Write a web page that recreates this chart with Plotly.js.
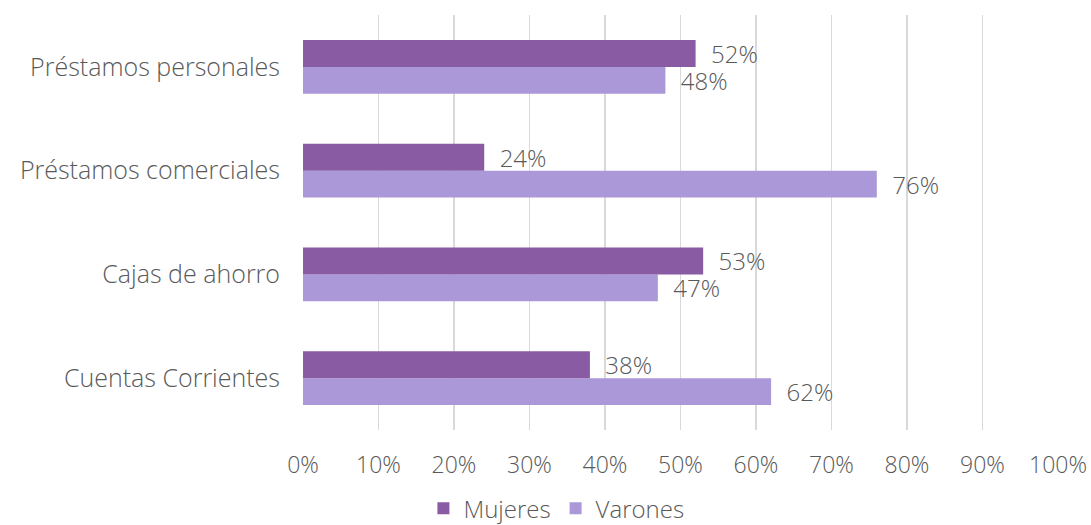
<!DOCTYPE html>
<html><head><meta charset="utf-8">
<script src="https://cdn.plot.ly/plotly-3.0.1.min.js"></script>
<style>html,body{margin:0;padding:0;background:#fff;}#chart{width:1091px;height:525px;}</style>
</head><body><div id="chart"></div>
<script>
const categories = ["Cuentas Corrientes", "Cajas de ahorro", "Préstamos comerciales", "Préstamos personales"];
const mujeres = [38, 53, 24, 52];
const varones = [62, 47, 76, 48];
const xTicks = [0,10,20,30,40,50,60,70,80,90,100];
const xTickLabels = xTicks.map(v => v + "%");

const FONT = "'Open Sans', sans-serif";
const TXT = "#595959";
const W = 300;
const lbl = arr => arr.map(v => "\u00A0\u00A0" + v + "%");

const traces = [
  {type:"bar", orientation:"h", name:"Varones", y:categories, x:varones,
   marker:{color:"#AB98D8"}, text:lbl(varones), textposition:"outside",
   textfont:{family:FONT, size:24, color:TXT, weight:W}, cliponaxis:false, constraintext:"none", hoverinfo:"none"},
  {type:"bar", orientation:"h", name:"Mujeres", y:categories, x:mujeres,
   marker:{color:"#885BA2"}, text:lbl(mujeres), textposition:"outside",
   textfont:{family:FONT, size:24, color:TXT, weight:W}, cliponaxis:false, constraintext:"none", hoverinfo:"none"}
];

const layout = {
  width:1091, height:525,
  margin:{l:303, r:33, t:15, b:95},
  paper_bgcolor:"#fff", plot_bgcolor:"#fff",
  font:{family:FONT, color:TXT, size:24, weight:W},
  barmode:"group", bargap:0.48, bargroupgap:0,
  showlegend:true,
  legend:{orientation:"h", traceorder:"reversed", xref:"container", yref:"container",
          x:0.51, xanchor:"center", y:0.031, yanchor:"middle",
          font:{family:FONT, size:24, color:TXT, weight:W}, itemwidth:30,
          tracegroupgap:0},
  xaxis:{range:[0,100], tickvals:xTicks, ticktext:xTickLabels, showgrid:true,
         gridcolor:"#D9D9D9", gridwidth:1.5, zeroline:false, showline:false,
         ticks:"", ticklabelstandoff:19, tickfont:{family:FONT, size:23, color:TXT, weight:W}, fixedrange:true},
  yaxis:{type:"category", categoryorder:"array", categoryarray:categories, showgrid:false,
         zeroline:false, showline:false, ticks:"", ticklabelstandoff:22,
         tickfont:{family:FONT, size:25, color:TXT, weight:W}, fixedrange:true}
};
Plotly.newPlot("chart", traces, layout, {displayModeBar:false, staticPlot:true});
</script></body></html>
